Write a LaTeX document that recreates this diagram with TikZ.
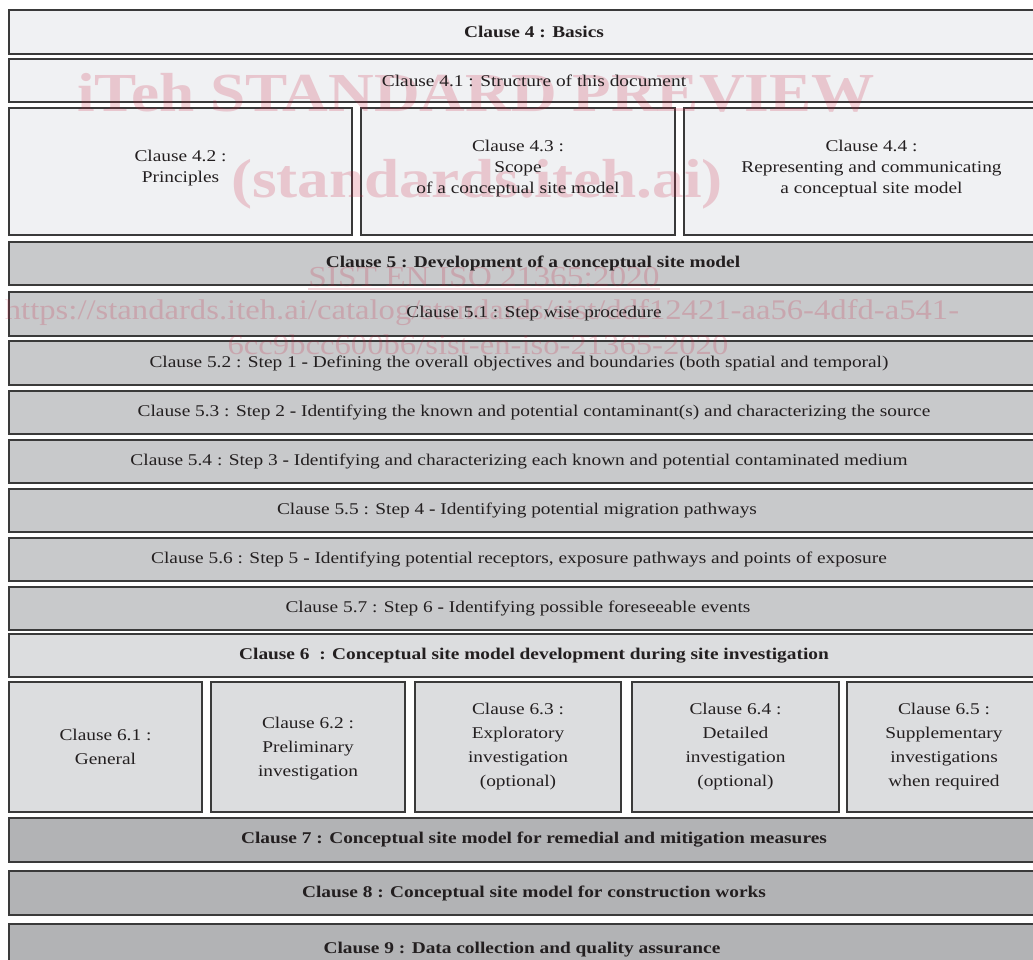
\documentclass[tikz,border=0pt]{standalone}
\usepackage{fontspec}
\setmainfont{Liberation Serif}[FakeStretch=1.18]
\newfontfamily\wmfont{Liberation Serif}[FakeStretch=1.15]
\definecolor{cfour}{HTML}{F0F1F3}
\definecolor{cfive}{HTML}{C8C9CB}
\definecolor{csix}{HTML}{DCDDDF}
\definecolor{cseven}{HTML}{B2B3B5}
\definecolor{cborder}{HTML}{3A3A3A}
\definecolor{ctext}{HTML}{231F20}
\definecolor{cwm}{HTML}{C81E3C}
\newcommand\mkbox[6]{\node[boxst, fill=#6, minimum width={(#4-#2)*1pt}, minimum height={(#5-#3)*1pt}, anchor=north west] (#1) at (#2,#3) {};}
\tikzset{
  boxst/.style={draw=cborder, line width=1.3pt, inner sep=0pt, outer sep=0pt},
  lab/.style={text=ctext, inner sep=0pt, align=center, font=\fontsize{16.4}{21}\selectfont},
  labsix/.style={lab, font=\fontsize{16.4}{24}\selectfont},
  wm/.style={text=cwm, text opacity=0.2, inner sep=0pt, anchor=base}
}
\begin{document}
\begin{tikzpicture}[x=1pt,y=-1pt]
\useasboundingbox (0,0) rectangle (1033,960);
\clip (0,0) rectangle (1033,960);
% boxes
\mkbox{c4}{9}{10}{1059}{54}{cfour}
\mkbox{c41}{9}{59}{1059}{102}{cfour}
\mkbox{c42}{9}{108}{352}{235}{cfour}
\mkbox{c43}{361}{108}{675}{235}{cfour}
\mkbox{c44}{684}{108}{1059}{235}{cfour}
\mkbox{c5}{9}{242}{1059}{285}{cfive}
\mkbox{c51}{9}{292}{1059}{336}{cfive}
\mkbox{c52}{9}{341}{1059}{385}{cfive}
\mkbox{c53}{9}{391}{1059}{434}{cfive}
\mkbox{c54}{9}{440}{1059}{483}{cfive}
\mkbox{c55}{9}{489}{1059}{532}{cfive}
\mkbox{c56}{9}{538}{1059}{581}{cfive}
\mkbox{c57}{9}{587}{1059}{630}{cfive}
\mkbox{c6}{9}{634}{1059}{677}{csix}
\mkbox{c61}{9}{682}{202}{812}{csix}
\mkbox{c62}{211}{682}{405}{812}{csix}
\mkbox{c63}{415}{682}{621}{812}{csix}
\mkbox{c64}{632}{682}{839}{812}{csix}
\mkbox{c65}{847}{682}{1041}{812}{csix}
\mkbox{c7}{9}{818}{1059}{862}{cseven}
\mkbox{c8}{9}{871}{1059}{915}{cseven}
\mkbox{c9}{9}{924}{1059}{968}{cseven}
% watermark
\node[wm, font=\wmfont\bfseries\fontsize{55}{55}\selectfont] (wm1) at (476,112) {iTeh STANDARD PREVIEW};
\node[wm, font=\wmfont\bfseries\fontsize{55}{55}\selectfont] (wm2) at (477,198) {(standards.iteh.ai)};
\node[wm, font=\wmfont\fontsize{29}{29}\selectfont] (wm3) at (484,286) {SIST EN ISO 21365:2020};
\draw[cwm, opacity=0.2, line width=1.5pt] ([yshift=-3pt]wm3.base west) -- ([yshift=-3pt]wm3.base east);
\node[wm, font=\wmfont\fontsize{28.4}{28.4}\selectfont] (wm4) at (482,319) {https://standards.iteh.ai/catalog/standards/sist/ddf12421-aa56-4dfd-a541-};
\node[wm, font=\wmfont\fontsize{28.4}{28.4}\selectfont] (wm5) at (478,354) {6cc9bcc600b6/sist-en-iso-21365-2020};
% labels
\node[lab] (t4) at (c4.center) {\bfseries Clause 4 : Basics};
\node[lab] (t41) at (c41.center) {Clause 4.1 : Structure of this document};
\node[lab, yshift=3pt] (t42) at (c42.center) {Clause 4.2 :\\Principles};
\node[lab, yshift=3pt] (t43) at (c43.center) {Clause 4.3 :\\Scope\\of a conceptual site model};
\node[lab, yshift=3pt] (t44) at (c44.center) {Clause 4.4 :\\Representing and communicating\\a conceptual site model};
\node[lab, xshift=-1pt] (t5) at (c5.center) {\bfseries Clause 5 : Development of a conceptual site model};
\node[lab] (t51) at (c51.center) {Clause 5.1 : Step wise procedure};
\node[lab, xshift=-15pt] (t52) at (c52.center) {Clause 5.2 : Step 1 \textbf{-} Defining the overall objectives and boundaries (both spatial and temporal)};
\node[lab] (t53) at (c53.center) {Clause 5.3 : Step 2 \textbf{-} Identifying the known and potential contaminant(s) and characterizing the source};
\node[lab, xshift=-15pt] (t54) at (c54.center) {Clause 5.4 : Step 3 \textbf{-} Identifying and characterizing each known and potential contaminated medium};
\node[lab, xshift=-17pt] (t55) at (c55.center) {Clause 5.5 : Step 4 \textbf{-} Identifying potential migration pathways};
\node[lab, xshift=-15pt] (t56) at (c56.center) {Clause 5.6 : Step 5 \textbf{-} Identifying potential receptors, exposure pathways and points of exposure};
\node[lab, xshift=-16pt] (t57) at (c57.center) {Clause 5.7 : Step 6 \textbf{-} Identifying possible foreseeable events};
\node[lab] (t6) at (c6.center) {\bfseries Clause 6~ : Conceptual site model development during site investigation};
\node[labsix] (t61) at (c61.center) {Clause 6.1 :\\General};
\node[labsix, yshift=-2pt] (t62) at (c62.center) {Clause 6.2 :\\Preliminary\\investigation};
\node[labsix] (t63) at (c63.center) {Clause 6.3 :\\Exploratory\\investigation\\(optional)};
\node[labsix] (t64) at (c64.center) {Clause 6.4 :\\Detailed\\investigation\\(optional)};
\node[labsix] (t65) at (c65.center) {Clause 6.5 :\\Supplementary\\investigations\\when required};
\node[lab] (t7) at (c7.center) {\bfseries Clause 7 : Conceptual site model for remedial and mitigation measures};
\node[lab] (t8) at (c8.center) {\bfseries Clause 8 : Conceptual site model for construction works};
\node[lab, xshift=-12pt, yshift=-4pt] (t9) at (c9.center) {\bfseries Clause 9 : Data collection and quality assurance};
\end{tikzpicture}
\end{document}
